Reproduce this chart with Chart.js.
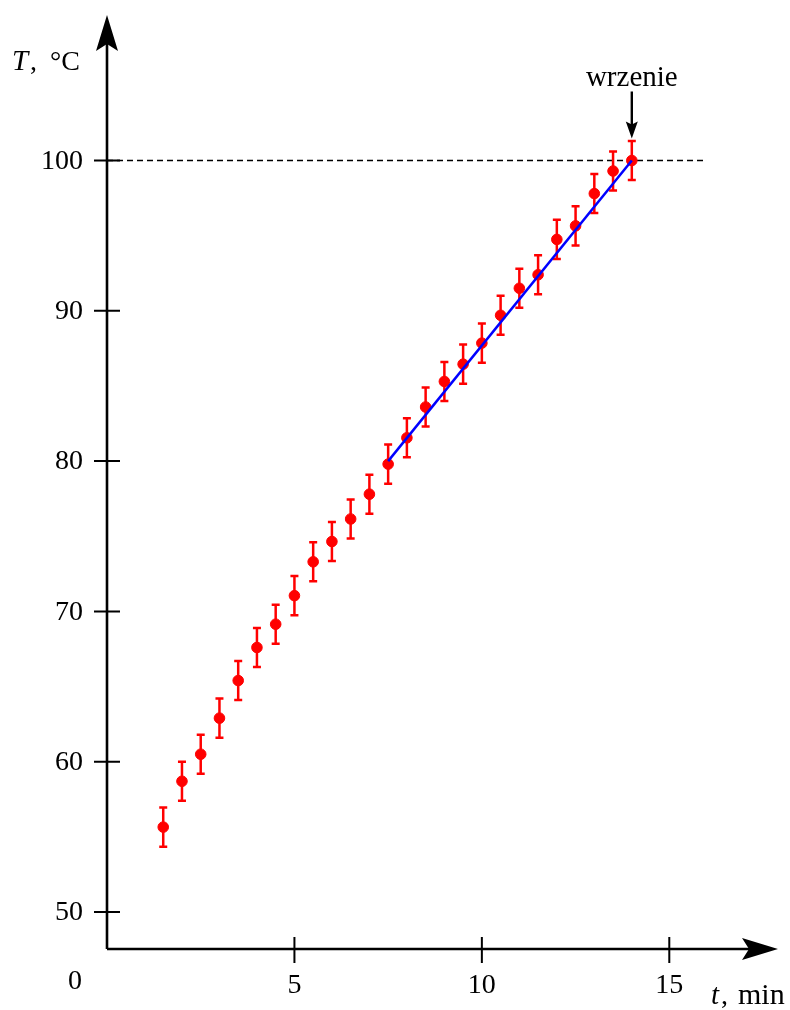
<!DOCTYPE html>
<html>
<head>
<meta charset="utf-8">
<script src="https://cdn.jsdelivr.net/npm/chart.js@4.4.1/dist/chart.umd.min.js"></script>
<style>
  html, body { margin: 0; padding: 0; background: #fff; }
  canvas { display: block; }
</style>
</head>
<body>
<canvas id="chart" width="790" height="1010"></canvas>
<script>
// measured data: time (min) and temperature (°C)
const times = [1.5, 2, 2.5, 3, 3.5, 4, 4.5, 5, 5.5, 6, 6.5, 7, 7.5, 8, 8.5, 9, 9.5, 10, 10.5, 11, 11.5, 12, 12.5, 13, 13.5, 14];
const temps = [55.65, 58.7, 60.5, 62.9, 65.4, 67.6, 69.15, 71.05, 73.3, 74.65, 76.15, 77.8, 79.8, 81.55, 83.6, 85.3, 86.45, 87.85, 89.7, 91.5, 92.4, 94.75, 95.65, 97.8, 99.3, 100];
const tempError = 1.3;

// linear fit over the last part, and the boiling level
const fitTimes = [7.5, 14];
const fitTemps = [80, 100];
const boilTimes = [0, 16];
const boilTemp = 100;

const xTicks = [5, 10, 15];
const yTicks = [50, 60, 70, 80, 90, 100];
const boilLabel = "wrzenie";

const serif = '"Liberation Serif", "Times New Roman", serif';
const font = "28px " + serif;
const italic = "italic 29px " + serif;

// stealth-style arrow head pointing along (dx, dy)
const arrowHead = (ctx, tx, ty, dx, dy, len, half, notch) => {
  const px = -dy, py = dx;
  const bx = tx - dx * len, by = ty - dy * len;
  ctx.beginPath();
  ctx.moveTo(tx, ty);
  ctx.lineTo(bx + px * half, by + py * half);
  ctx.lineTo(tx - dx * (len - notch), ty - dy * (len - notch));
  ctx.lineTo(bx - px * half, by - py * half);
  ctx.closePath();
  ctx.fill();
};

const errorBars = {
  id: "errorBars",
  beforeDatasetDraw(chart, args) {
    if (args.index !== 1) return;
    const ctx = chart.ctx;
    const x = chart.scales.x, y = chart.scales.y;
    ctx.save();
    ctx.strokeStyle = "#ff0000";
    ctx.lineWidth = 2.5;
    times.forEach((t, i) => {
      const px = x.getPixelForValue(t);
      const top = y.getPixelForValue(temps[i] + tempError);
      const bot = y.getPixelForValue(temps[i] - tempError);
      ctx.beginPath();
      ctx.moveTo(px, top); ctx.lineTo(px, bot);
      ctx.moveTo(px - 4, top); ctx.lineTo(px + 4, top);
      ctx.moveTo(px - 4, bot); ctx.lineTo(px + 4, bot);
      ctx.stroke();
    });
    ctx.restore();
  }
};

const axes = {
  id: "axes",
  afterDraw(chart) {
    const ctx = chart.ctx;
    const x = chart.scales.x, y = chart.scales.y;
    const area = chart.chartArea;
    const ox = x.getPixelForValue(0);
    const oy = area.bottom;
    ctx.save();
    ctx.strokeStyle = "#000";
    ctx.fillStyle = "#000";
    ctx.lineWidth = 2.6;

    // axis lines
    ctx.beginPath();
    ctx.moveTo(ox, oy); ctx.lineTo(ox, area.top + 20);
    ctx.moveTo(ox, oy); ctx.lineTo(area.right - 20, oy);
    ctx.stroke();
    arrowHead(ctx, ox, area.top, 0, -1, 36, 11, 7);
    arrowHead(ctx, area.right, oy, 1, 0, 36, 11, 7);

    // ticks
    ctx.lineWidth = 2;
    ctx.beginPath();
    yTicks.forEach((v) => {
      const py = y.getPixelForValue(v);
      ctx.moveTo(ox - 13, py); ctx.lineTo(ox + 13, py);
    });
    xTicks.forEach((v) => {
      const px = x.getPixelForValue(v);
      ctx.moveTo(px, oy - 12); ctx.lineTo(px, oy + 14);
    });
    ctx.stroke();

    // tick labels
    ctx.font = font;
    ctx.textAlign = "right";
    ctx.textBaseline = "middle";
    yTicks.forEach((v) => ctx.fillText(String(v), ox - 24, y.getPixelForValue(v) + 1));
    ctx.textAlign = "center";
    ctx.textBaseline = "alphabetic";
    xTicks.forEach((v) => ctx.fillText(String(v), x.getPixelForValue(v), oy + 44));
    ctx.fillText("0", ox - 32, oy + 40);

    // axis titles
    ctx.textAlign = "left";
    ctx.font = italic;
    ctx.fillText("T", 12, 70);
    ctx.font = font;
    ctx.fillText(",", 30, 70);
    ctx.fillText("°C", 50, 70);
    ctx.font = italic;
    ctx.fillText("t", 711, 1004);
    ctx.font = font;
    ctx.fillText(",", 721, 1004);
    ctx.font = "30px " + serif;
    ctx.fillText("min", 738, 1004);

    // boiling annotation
    const bx = x.getPixelForValue(14);
    const by = y.getPixelForValue(boilTemp);
    ctx.textAlign = "center";
    ctx.font = "29px " + serif;
    ctx.fillText(boilLabel, bx, by - 74);
    ctx.lineWidth = 2.4;
    ctx.beginPath();
    ctx.moveTo(bx, by - 69); ctx.lineTo(bx, by - 32);
    ctx.stroke();
    arrowHead(ctx, bx, by - 22, 0, 1, 17, 6, 3);
    ctx.restore();
  }
};

new Chart(document.getElementById("chart"), {
  type: "scatter",
  data: {
    datasets: [
      {
        label: "fit",
        type: "line",
        data: fitTimes.map((t, i) => ({ x: t, y: fitTemps[i] })),
        borderColor: "#0000ff",
        borderWidth: 2.5,
        pointRadius: 0,
        order: 0,
      },
      {
        label: "T",
        data: times.map((t, i) => ({ x: t, y: temps[i] })),
        backgroundColor: "#ff0000",
        borderColor: "#ff0000",
        pointRadius: 5.3,
        order: 1,
      },
      {
        label: "boil",
        type: "line",
        data: boilTimes.map((t) => ({ x: t, y: boilTemp })),
        borderColor: "#000",
        borderWidth: 1.6,
        borderDash: [6, 4],
        pointRadius: 0,
        order: 2,
      },
    ],
  },
  options: {
    responsive: false,
    animation: false,
    layout: { padding: { left: 107, top: 15, right: 12, bottom: 61 } },
    scales: {
      x: { type: "linear", min: 0, max: 17.9, display: false },
      y: { type: "linear", min: 47.54, max: 109.68, display: false },
    },
    plugins: {
      legend: { display: false },
      tooltip: { enabled: false },
    },
  },
  plugins: [errorBars, axes],
});
</script>
</body>
</html>
